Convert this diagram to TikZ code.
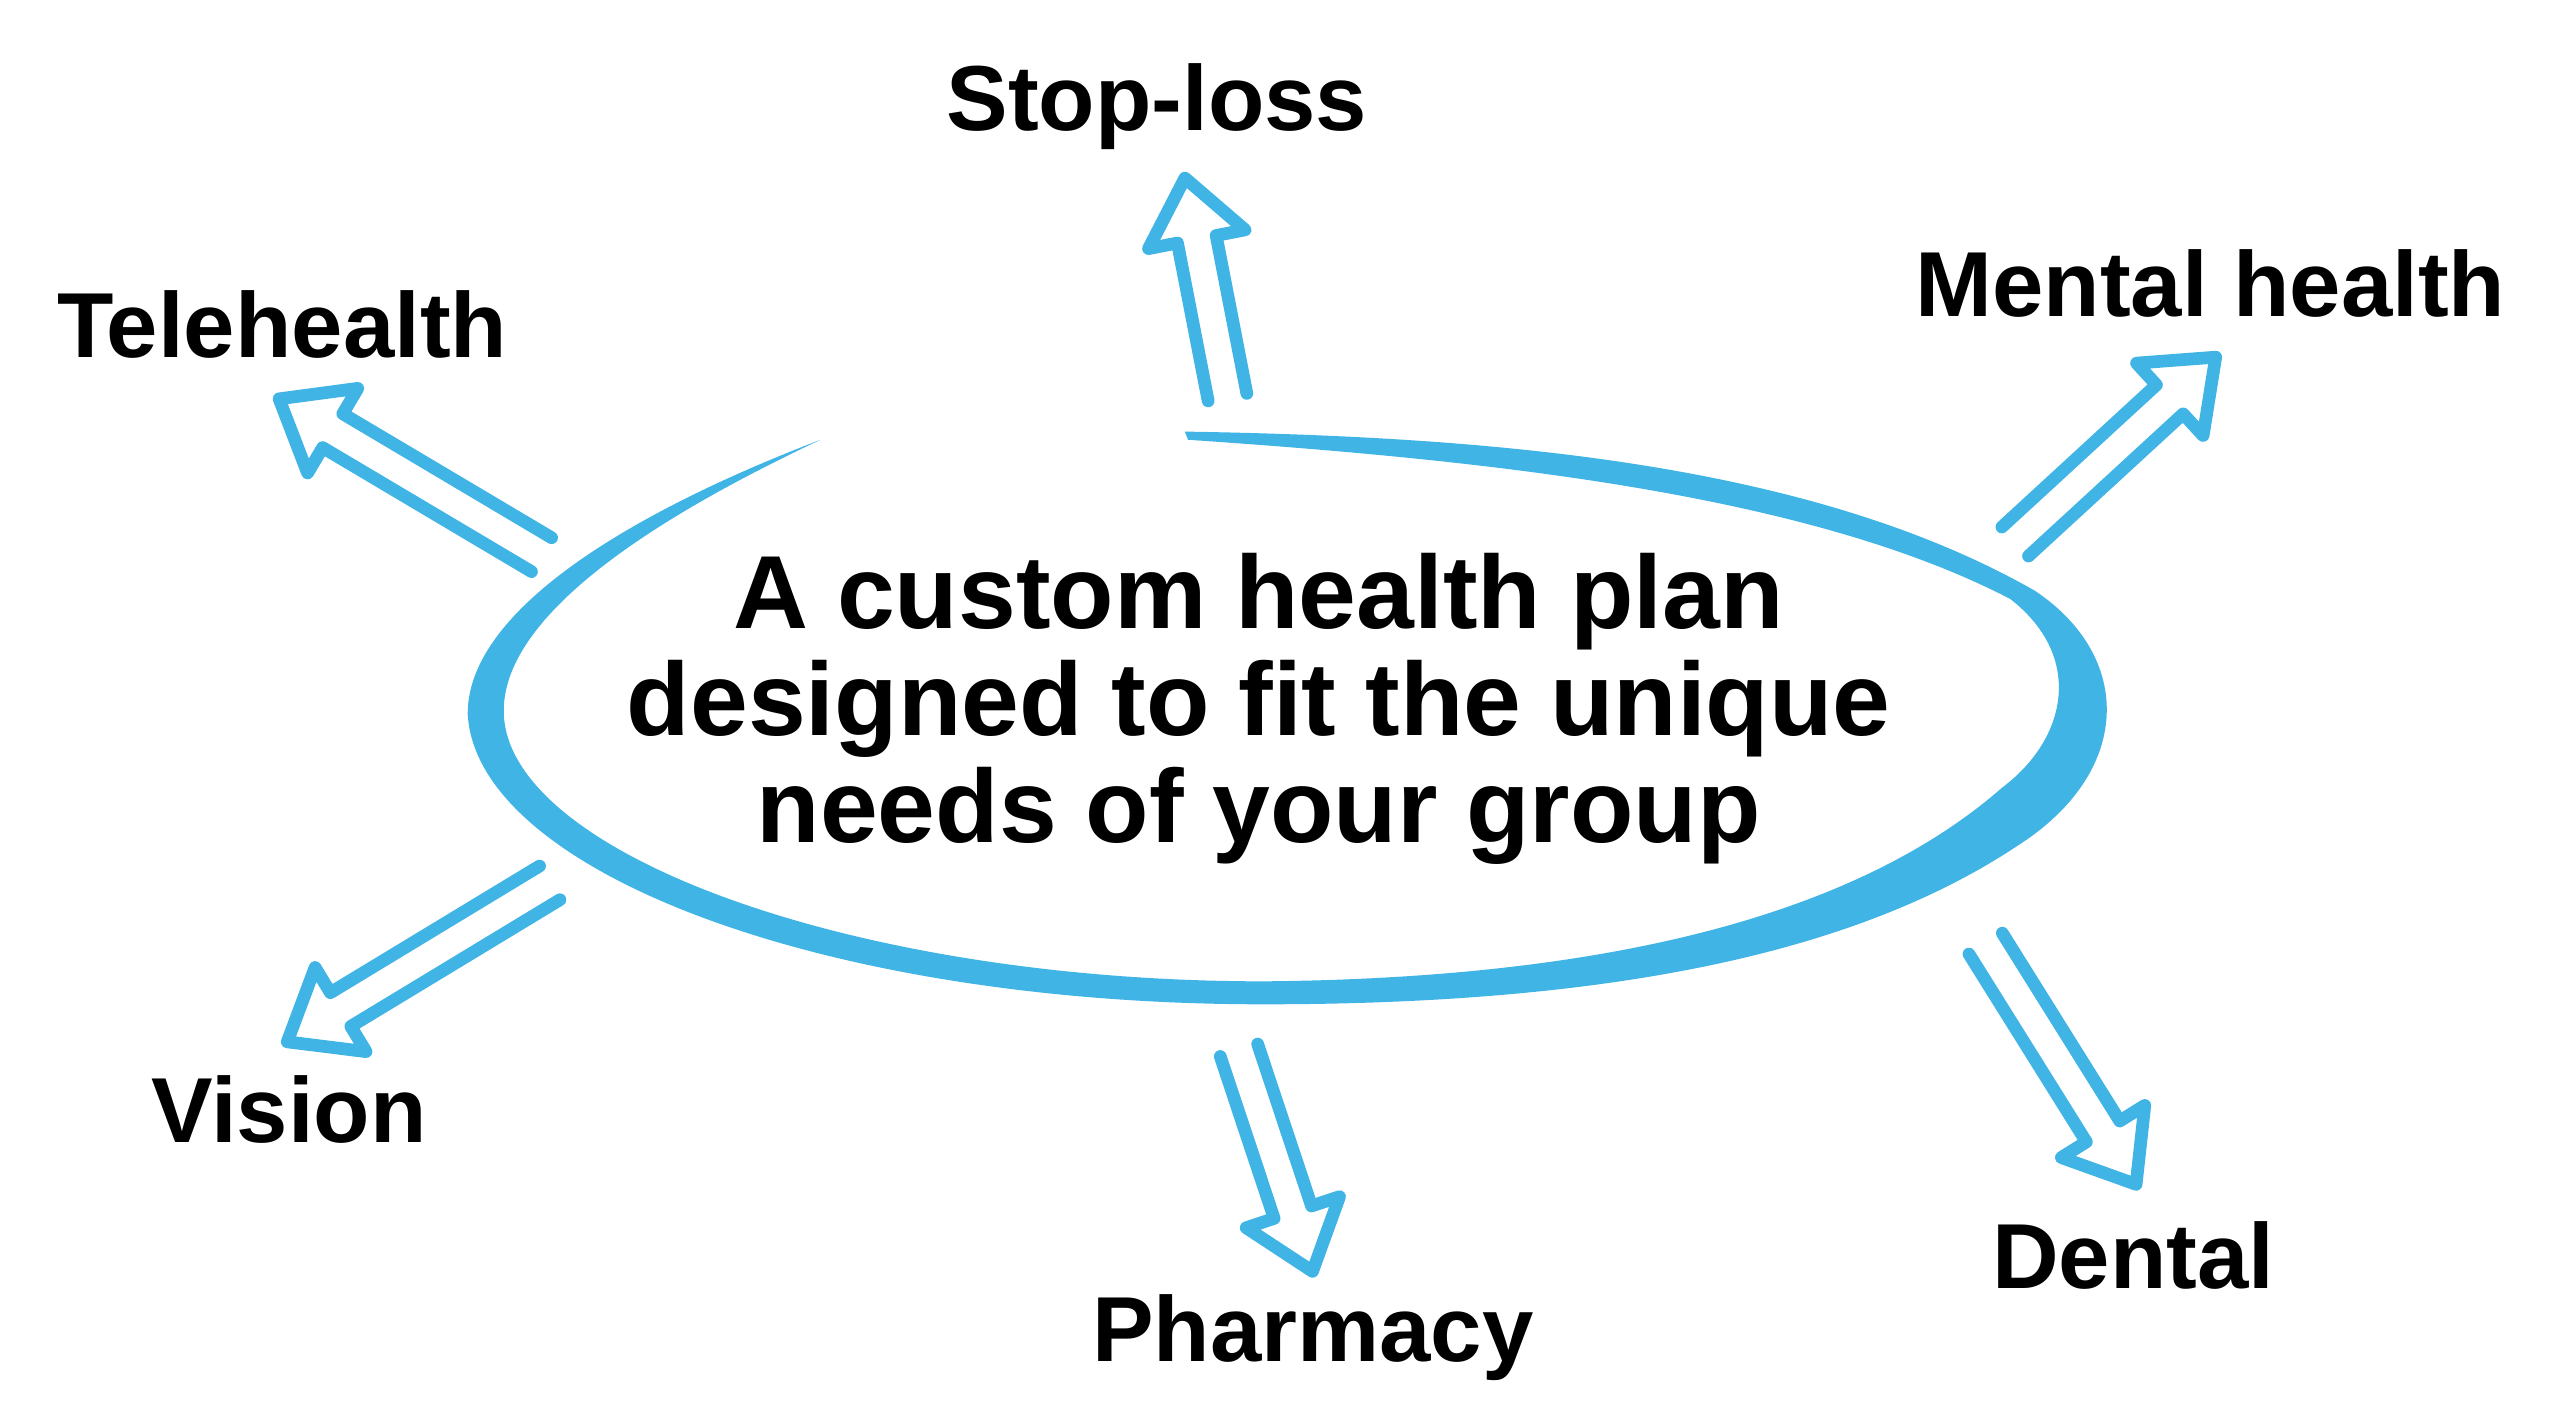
\documentclass[tikz,border=0pt]{standalone}
\usepackage{fontspec}
\setmainfont{Liberation Sans}
\begin{document}
\begin{tikzpicture}[x=0.01cm,y=-0.01cm,
  lbl/.style={font=\bfseries\fontsize{16}{18}\selectfont,text=black},
  hb/.style={draw=skyb,line width=2.2pt,line join=round,line cap=round}]
\definecolor{skyb}{HTML}{3FB4E5}
\useasboundingbox (0,0) rectangle (1560,870);
\newcommand\harrow[4]{% x,y,angle,length
 \begin{scope}[shift={(#1,#2)},rotate=#3]
  \draw[hb] (0,12)--(#4-38,12)--(#4-38,30)--(#4,0)--(#4-38,-30)--(#4-38,-12)--(0,-12);
 \end{scope}}
% ellipse stroke
\fill[skyb] (500,268) .. controls (390,310) and (285,370) .. (285,435)
  .. controls (290,530) and (500,612) .. (770,612)
  .. controls (1000,612) and (1140,575) .. (1230,515)
  .. controls (1300,470) and (1300,400) .. (1240,360)
  .. controls (1100,280) and (900,266) .. (722,263)
  -- (724,268)
  .. controls (900,280) and (1100,300) .. (1225,365)
  .. controls (1270,400) and (1260,450) .. (1220,480)
  .. controls (1140,550) and (1000,596) .. (770,598)
  .. controls (520,598) and (310,520) .. (307,435)
  .. controls (305,375) and (400,315) .. (500,268) -- cycle;
\harrow{748}{242}{101}{136}
\harrow{330}{338}{149.3}{186}
\harrow{1228}{330}{42.6}{166}
\harrow{335}{538}{211.2}{187}
\harrow{755}{640}{-71.6}{142}
\harrow{1210}{575}{-58}{173}
\node[lbl] (sl) at (705,65) {Stop-loss};
\node[lbl] (th) at (172,198) {Telehealth};
\node[lbl] (mh) at (1347,173) {Mental health};
\node[lbl] (vi) at (176,676) {Vision};
\node[lbl] (ph) at (800,815) {Pharmacy};
\node[lbl] (de) at (1300,765) {Dental};
\node[font=\bfseries\fontsize{18}{18.5}\selectfont,align=center] (c) at (767,432)
 {A custom health plan\\designed to fit the unique\\needs of your group};
\end{tikzpicture}
\end{document}
